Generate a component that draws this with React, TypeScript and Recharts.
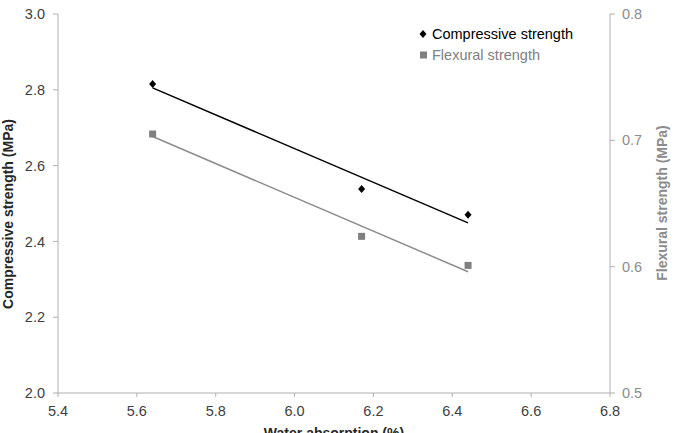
import { ComposedChart, Scatter, XAxis, YAxis } from 'recharts'

const WATER_ABSORPTION = [5.64, 6.17, 6.44]
const COMPRESSIVE = [2.815, 2.538, 2.47]
const FLEXURAL = [0.705, 0.624, 0.601]

// linear trend line ends
const TREND_X = [5.64, 6.44]
const COMPRESSIVE_TREND = [2.805, 2.449]
const FLEXURAL_TREND = [0.703, 0.596]

const X_TICKS = [5.4, 5.6, 5.8, 6.0, 6.2, 6.4, 6.6, 6.8]
const LEFT_TICKS = [2.0, 2.2, 2.4, 2.6, 2.8, 3.0]
const RIGHT_TICKS = [0.5, 0.6, 0.7, 0.8]

const compressiveData = WATER_ABSORPTION.map((x, i) => ({ x, y: COMPRESSIVE[i] }))
const flexuralData = WATER_ABSORPTION.map((x, i) => ({ x, y: FLEXURAL[i] }))
const compressiveTrend = TREND_X.map((x, i) => ({ x, y: COMPRESSIVE_TREND[i] }))
const flexuralTrend = TREND_X.map((x, i) => ({ x, y: FLEXURAL_TREND[i] }))

const FONT = '"Liberation Sans", Arial, sans-serif'
const AXIS = '#b0b0b0'
const GREY = '#808080'
const TICK_SIZE = 14.5

const Diamond = (props: any) => {
  const { cx, cy } = props
  return <polygon points={`${cx},${cy - 4} ${cx + 3.5},${cy} ${cx},${cy + 4} ${cx - 3.5},${cy}`} fill="#000" />
}

const Square = (props: any) => {
  const { cx, cy } = props
  return <rect x={cx - 3.5} y={cy - 3.5} width={7} height={7} fill={GREY} />
}

const NoDot = () => null

// rotated axis title, centred on (x, y)
const SideTitle = ({ x, y, text, color }: { x: number; y: number; text: string; color: string }) => (
  <text
    transform={`translate(${x},${y}) rotate(-90)`}
    textAnchor="middle"
    dominantBaseline="central"
    fill={color}
    fontSize={14}
    fontWeight="bold"
    fontFamily={FONT}
  >
    {text}
  </text>
)

function LegendBox() {
  return (
    <div
      style={{
        position: 'absolute',
        left: 419,
        top: 24,
        fontFamily: FONT,
        fontSize: 14.5,
        lineHeight: '21px',
        whiteSpace: 'nowrap',
      }}
    >
      <div style={{ color: '#000' }}>
        <svg width={10} height={10} style={{ marginRight: 3 }}>
          <polygon points="4,1 7.5,5 4,9 0.5,5" fill="#000" />
        </svg>
        Compressive strength
      </div>
      <div style={{ color: GREY }}>
        <svg width={10} height={10} style={{ marginRight: 3 }}>
          <rect x={1} y={1.5} width={7} height={7} fill={GREY} />
        </svg>
        Flexural strength
      </div>
    </div>
  )
}

export default function App() {
  return (
    <div style={{ position: 'fixed', left: 0, top: 0, width: 676, height: 433, background: '#fff' }}>
      <ComposedChart
        width={676}
        height={433}
        margin={{ top: 14, right: 0, bottom: 0, left: 0 }}
        style={{ fontFamily: FONT }}
      >
        <XAxis
          type="number"
          dataKey="x"
          domain={[5.4, 6.8]}
          ticks={X_TICKS}
          tickFormatter={(v: number) => v.toFixed(1)}
          height={40}
          stroke={AXIS}
          tickSize={4}
          tickMargin={9}
          fontSize={TICK_SIZE}
          tick={{ fill: '#404040', fontSize: TICK_SIZE }}
          allowDuplicatedCategory={false}
          label={{
            value: 'Water absorption (%)',
            position: 'insideBottom',
            offset: -5,
            fill: '#262626',
            fontSize: 14,
            fontWeight: 'bold',
          }}
        />
        <YAxis
          yAxisId="c"
          type="number"
          dataKey="y"
          domain={[2, 3]}
          ticks={LEFT_TICKS}
          tickFormatter={(v: number) => v.toFixed(1)}
          width={58}
          stroke={AXIS}
          tickSize={5}
          tickMargin={8}
          fontSize={TICK_SIZE}
          tick={{ fill: '#404040', fontSize: TICK_SIZE }}
          label={{
            content: () => <SideTitle x={8} y={214} text="Compressive strength (MPa)" color="#262626" />,
          }}
        />
        <YAxis
          yAxisId="f"
          orientation="right"
          type="number"
          dataKey="y"
          domain={[0.5, 0.8]}
          ticks={RIGHT_TICKS}
          tickFormatter={(v: number) => v.toFixed(1)}
          width={66}
          stroke={AXIS}
          tickSize={5}
          tickMargin={7}
          fontSize={TICK_SIZE}
          tick={{ fill: '#8c8c8c', fontSize: TICK_SIZE }}
          label={{
            content: () => <SideTitle x={662} y={203} text="Flexural strength (MPa)" color="#8c8c8c" />,
          }}
        />
        <Scatter
          yAxisId="c"
          data={compressiveTrend}
          line={{ stroke: '#000', strokeWidth: 1.5 }}
          shape={NoDot}
          legendType="none"
          isAnimationActive={false}
        />
        <Scatter
          yAxisId="f"
          data={flexuralTrend}
          line={{ stroke: '#8c8c8c', strokeWidth: 1.5 }}
          shape={NoDot}
          legendType="none"
          isAnimationActive={false}
        />
        <Scatter
          yAxisId="c"
          name="Compressive strength"
          data={compressiveData}
          shape={Diamond}
          isAnimationActive={false}
        />
        <Scatter
          yAxisId="f"
          name="Flexural strength"
          data={flexuralData}
          shape={Square}
          isAnimationActive={false}
        />
      </ComposedChart>
      <LegendBox />
    </div>
  )
}
